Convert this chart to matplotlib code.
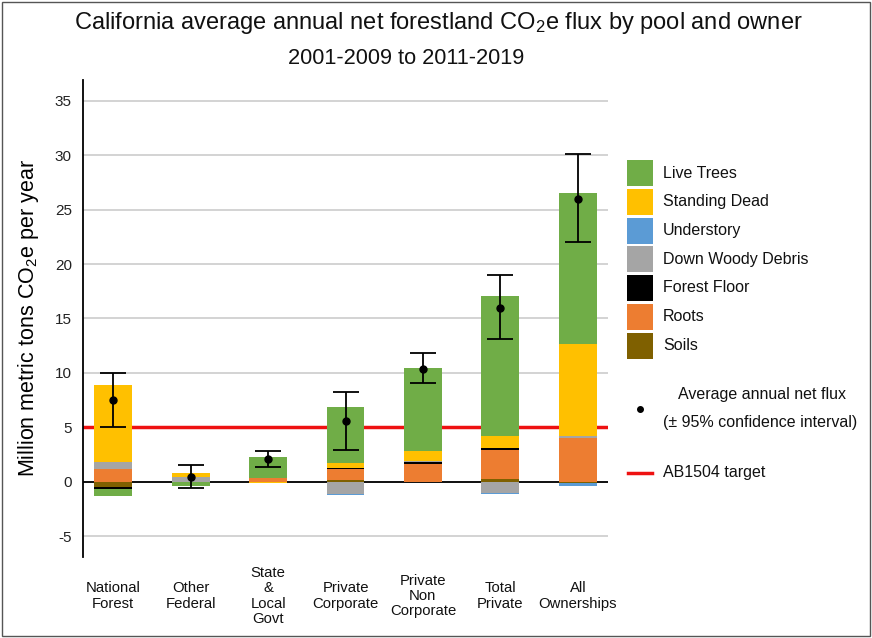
import matplotlib
matplotlib.use("Agg")
import matplotlib.pyplot as plt
from matplotlib.patches import Rectangle
import numpy as np

plt.rcParams['font.family'] = ['Liberation Sans', 'DejaVu Sans']
plt.rcParams['mathtext.fontset'] = 'custom'
plt.rcParams['mathtext.rm'] = 'Liberation Sans'
plt.rcParams['mathtext.it'] = 'Liberation Sans:italic'
plt.rcParams['axes.unicode_minus'] = False

# ---------------- data ----------------
owners = ["National\nForest", "Other\nFederal", "State\n&\nLocal\nGovt", "Private\nCorporate",
          "Private\nNon\nCorporate", "Total\nPrivate", "All\nOwnerships"]

# pools in stacking order (bottom series first)
soils         = [-0.50, 0.00, 0.00, 0.15, 0.00, 0.30, -0.15]
roots         = [1.15, 0.00, 0.35, 1.05, 1.60, 2.60, 4.05]
forest_floor  = [-0.20, 0.00, 0.00, 0.10, 0.20, 0.20, 0.00]
down_woody    = [0.70, 0.45, 0.00, -1.10, 0.15, -1.00, 0.20]
understory    = [0.00, 0.00, 0.00, -0.10, -0.05, -0.10, -0.20]
standing_dead = [7.00, 0.40, -0.15, 0.40, 0.85, 1.15, 8.45]
live_trees    = [-0.60, -0.40, 1.90, 5.15, 7.65, 12.85, 13.80]

net_flux = [7.5, 0.45, 2.1, 5.6, 10.4, 16.0, 26.0]
ci_low   = [5.0, -0.6, 1.4, 2.9, 9.05, 13.1, 22.0]
ci_high  = [10.0, 1.55, 2.8, 8.25, 11.85, 18.95, 30.1]

target = 5.0

pool_names = ["Soils", "Roots", "Forest Floor", "Down Woody Debris", "Understory",
              "Standing Dead", "Live Trees"]
pool_values = [soils, roots, forest_floor, down_woody, understory, standing_dead, live_trees]
pool_colors = ["#7F6000", "#ED7D31", "#000000", "#A5A5A5", "#5B9BD5", "#FFC000", "#70AD47"]

# ---------------- figure ----------------
W, H = 872, 638
fig = plt.figure(figsize=(W / 100, H / 100), dpi=100)
ax = fig.add_axes([83 / W, 1 - 557 / H, (608 - 83) / W, (557 - 80) / H])

x = np.arange(len(owners))
pos_base = np.zeros(len(owners))
neg_base = np.zeros(len(owners))
for name, vals, col in zip(pool_names, pool_values, pool_colors):
    v = np.array(vals, dtype=float)
    base = np.where(v >= 0, pos_base, neg_base)
    ax.bar(x, v, width=0.49, bottom=base, color=col, edgecolor='none', zorder=3, label=name)
    pos_base += np.where(v >= 0, v, 0)
    neg_base += np.where(v < 0, v, 0)

net = np.array(net_flux)
yerr = np.vstack([net - np.array(ci_low), np.array(ci_high) - net])
ax.errorbar(x, net, yerr=yerr, fmt='o', color='black', ms=5, elinewidth=1.3,
            capsize=9.5, capthick=1.3, zorder=5)

ax.axhline(target, color='#EE1111', lw=2.5, zorder=2)
ax.axhline(0, color='black', lw=1.3, zorder=2.5)

ax.set_xlim(-0.39, 6.39)
ax.set_ylim(-6.9, 36.9)
ax.set_yticks(np.arange(-5, 36, 5))
ax.yaxis.grid(True, color='#C8C8C8', lw=1.1)
ax.set_axisbelow(True)
for s in ['top', 'right', 'bottom']:
    ax.spines[s].set_visible(False)
ax.spines['left'].set_linewidth(1.3)
ax.tick_params(axis='y', length=0, pad=8, labelsize=11, labelcolor='#222222')
ax.set_xticks(x)
ax.set_xticklabels(owners, fontsize=10.7, linespacing=1.12, va='center', color='#111111')
ax.tick_params(axis='x', length=0, pad=28)

ax.set_ylabel("Million metric tons CO$_2$e per year", fontsize=15.5, labelpad=10)

# title
fig.text(438 / W, 1 - 23 / H, "California average annual net forestland CO$_2$e flux by pool and owner",
         ha='center', va='center', fontsize=17, color='#111111')
fig.text(406 / W, 1 - 58 / H, "2001-2009 to 2011-2019", ha='center', va='center',
         fontsize=15.7, color='#111111')

# legend overlay
ov = fig.add_axes([0, 0, 1, 1], zorder=10)
ov.set_xlim(0, W)
ov.set_ylim(H, 0)
ov.axis('off')
ov.patch.set_alpha(0)

leg_order = ["Live Trees", "Standing Dead", "Understory", "Down Woody Debris",
             "Forest Floor", "Roots", "Soils"]
cmap = dict(zip(pool_names, pool_colors))
for i, nm in enumerate(leg_order):
    cy = 173 + i * 28.75
    ov.add_patch(Rectangle((627, cy - 13), 26, 26, facecolor=cmap[nm], edgecolor='none'))
    ov.text(663, cy, nm, fontsize=11.5, va='center', ha='left', color='#111111')

ov.plot([640], [409], 'o', color='black', ms=4)
ov.text(762, 395, "Average annual net flux", fontsize=11.5, va='center', ha='center', color='#111111')
ov.text(663, 423, "(\u00b1 95% confidence interval)", fontsize=11.5, va='center', ha='left', color='#111111')
ov.plot([628, 652], [473, 473], color='#EE1111', lw=2.5)
ov.text(663, 473, "AB1504 target", fontsize=11.5, va='center', ha='left', color='#111111')

# outer frame
ov.add_patch(Rectangle((1.5, 1.5), W - 4, H - 4, facecolor='none', edgecolor='#555555', lw=1))

fig.savefig("out.png", dpi=100)
